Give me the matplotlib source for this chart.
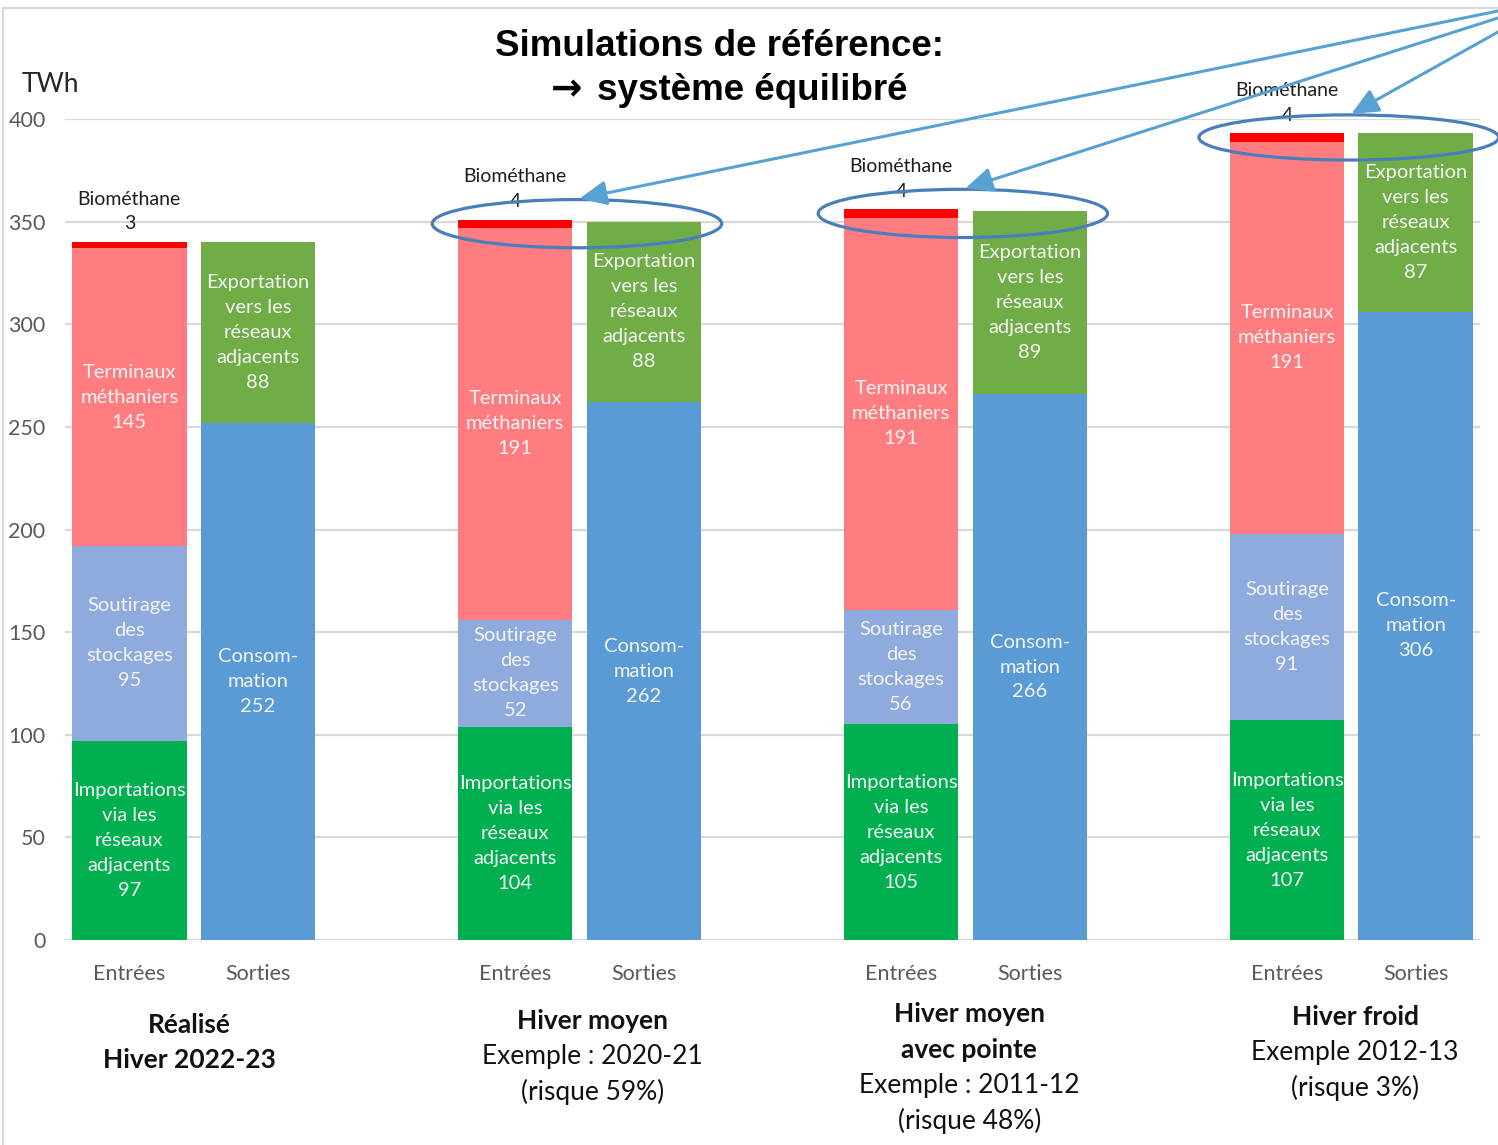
import matplotlib
matplotlib.use("Agg")
import matplotlib.pyplot as plt
from matplotlib.patches import Ellipse, Rectangle

plt.rcParams['font.family'] = ['Lato', 'DejaVu Sans']

# TWh per winter scenario
groups = ['Réalisé', 'Hiver moyen', 'Hiver moyen avec pointe', 'Hiver froid']
importations = [97, 104, 105, 107]
soutirage = [95, 52, 56, 91]
terminaux = [145, 191, 191, 191]
biomethane = [3, 4, 4, 4]
consommation = [252, 262, 266, 306]
exportation = [88, 88, 89, 87]

bar_names = ['Entrées', 'Sorties']

group_lines = [
    [('Réalisé', 'bold'), ('Hiver 2022-23', 'bold')],
    [('Hiver moyen', 'bold'), ('Exemple : 2020-21', 'normal'), ('(risque 59%)', 'normal')],
    [('Hiver moyen', 'bold'), ('avec pointe', 'bold'), ('Exemple : 2011-12', 'normal'), ('(risque 48%)', 'normal')],
    [('Hiver froid', 'bold'), ('Exemple 2012-13', 'normal'), ('(risque 3%)', 'normal')],
]

c_imp = '#00b050'
c_sout = '#8faadc'
c_term = '#ff7c80'
c_bio = '#ff0000'
c_cons = '#5b9bd5'
c_exp = '#70ad47'
c_txt = '#f4f4f4'

W, H = 1498, 1145
fig = plt.figure(figsize=(W / 100, H / 100), dpi=100)
ax = fig.add_axes([65 / W, 205 / H, 1415 / W, 821 / H])

spacing = 3
width = 0.89
x_in = [i * spacing for i in range(len(groups))]
x_out = [i * spacing + 1 for i in range(len(groups))]

# inputs
b0 = [0] * 4
b1 = importations
b2 = [a + b for a, b in zip(b1, soutirage)]
b3 = [a + b for a, b in zip(b2, terminaux)]
tot_in = [a + b for a, b in zip(b3, biomethane)]
ax.bar(x_in, importations, width, bottom=b0, color=c_imp, zorder=2)
ax.bar(x_in, soutirage, width, bottom=b1, color=c_sout, zorder=2)
ax.bar(x_in, terminaux, width, bottom=b2, color=c_term, zorder=2)
ax.bar(x_in, biomethane, width, bottom=b3, color=c_bio, zorder=2)

# outputs
ax.bar(x_out, consommation, width, color=c_cons, zorder=2)
ax.bar(x_out, exportation, width, bottom=consommation, color=c_exp, zorder=2)

lab_kw = dict(ha='center', va='center', color=c_txt, fontsize=14.5, linespacing=1.57, zorder=3)
for i in range(4):
    ax.text(x_in[i], b1[i] / 2, f'Importations\nvia les\nréseaux\nadjacents\n{importations[i]}', **lab_kw)
    ax.text(x_in[i], (b1[i] + b2[i]) / 2, f'Soutirage\ndes\nstockages\n{soutirage[i]}', **lab_kw)
    ax.text(x_in[i], (b2[i] + b3[i]) / 2, f'Terminaux\nméthaniers\n{terminaux[i]}', **lab_kw)
    ax.text(x_out[i], consommation[i] / 2, f'Consom-\nmation\n{consommation[i]}', **lab_kw)
    ax.text(x_out[i], consommation[i] + exportation[i] / 2,
            f'Exportation\nvers les\nréseaux\nadjacents\n{exportation[i]}', **lab_kw)
    ax.annotate(f'Biométhane\n{biomethane[i]}', xy=(x_in[i], tot_in[i]), xytext=(0, 7),
                textcoords='offset points', ha='center', va='bottom', fontsize=14,
                color='#1e1e1e', linespacing=1.55, annotation_clip=False)

# scenario circles and pointer lines
line_starts = [11, 18, 32]
for k, i in enumerate(range(1, 4)):
    cx = x_in[i] + 0.48
    ew = 2.25 if i < 3 else 2.33
    eh = 23.5 if i < 3 else 22
    cy = tot_in[i] - 2
    ax.add_patch(Ellipse((cx, cy), ew, eh, fill=False, edgecolor='#4a7ebb', lw=2.3,
                         zorder=4, clip_on=False))
    ax.annotate('', xy=(x_in[i] + 0.5, cy + eh / 2 + 0.5), xycoords='data',
                xytext=(1.0, 1 - line_starts[k] / H), textcoords='figure fraction',
                arrowprops=dict(arrowstyle='-|>,head_length=0.55,head_width=0.25',
                                color='#58a2d3', lw=2.2, mutation_scale=30,
                                shrinkA=0, shrinkB=0),
                annotation_clip=False, zorder=5)

ax.set_xlim(-0.5, 10.5)
ax.set_ylim(0, 400)
ax.set_yticks(range(0, 401, 50))
ax.set_xticks(x_in + x_out)
ax.set_xticklabels(bar_names[:1] * 4 + bar_names[1:] * 4)
ax.tick_params(axis='x', length=0, pad=17, labelsize=15.5, labelcolor='#595959')
ax.tick_params(axis='y', length=0, pad=14, labelsize=15.5, labelcolor='#595959')
ax.yaxis.grid(True, color='#d9d9d9', lw=1.6, zorder=0)
ax.set_axisbelow(True)
for s in ax.spines.values():
    s.set_visible(False)

# scenario names under the bars
first_line = [1025, 1021, 1014, 1017]
label_dx = [-0.03, 0.1, 0.03, 0.03]
trans = ax.get_xaxis_transform()
for i, lines in enumerate(group_lines):
    for j, (txt, wt) in enumerate(lines):
        py = first_line[i] + j * 35.5
        ax.text(x_in[i] + 0.5 + label_dx[i], (940 - py) / 821, txt, transform=trans,
                ha='center', va='center', fontsize=19, fontweight=wt, color='#111111')

fig.text(22 / W, 1 - 84 / H, 'TWh', ha='left', va='center', fontsize=19, color='#262626')
title_font = ['Liberation Sans', 'DejaVu Sans']
fig.text(719.5 / W, 1 - 46 / H, 'Simulations de référence:', ha='center', va='center',
         fontsize=26.5, fontweight='bold', family=title_font)
fig.text(567 / W, 1 - 90 / H, '\u2192', ha='center', va='center',
         fontsize=27, fontweight='bold', family=['DejaVu Sans'])
fig.text(597 / W, 1 - 91 / H, 'système équilibré', ha='left', va='center',
         fontsize=26.5, fontweight='bold', family=title_font)

# outer frame
fig.add_artist(Rectangle((3 / W, -0.1), 1.2, 1.1 - 8 / H, transform=fig.transFigure,
                         fill=False, edgecolor='#d9d9d9', lw=1.6))

fig.savefig('out.png', dpi=100)
